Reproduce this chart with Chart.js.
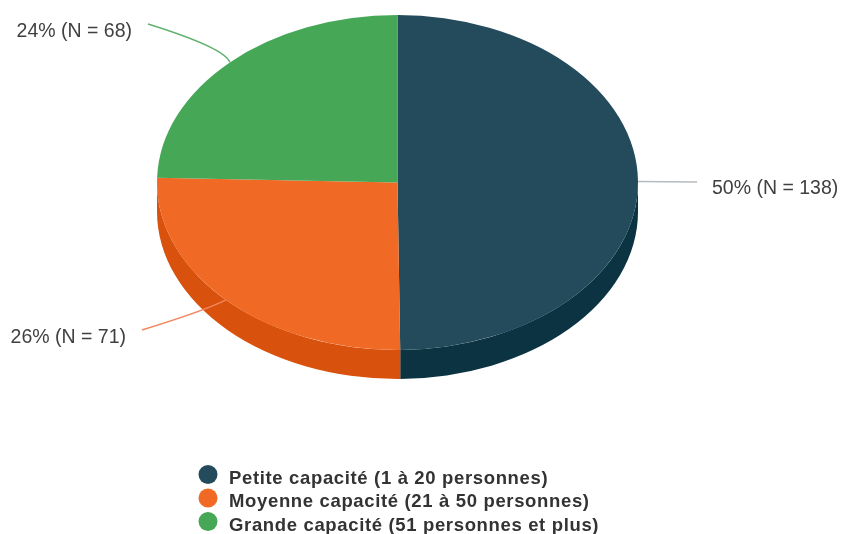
<!DOCTYPE html>
<html lang="fr">
<head>
<meta charset="utf-8">
<title>Capacité</title>
<script src="https://cdn.jsdelivr.net/npm/chart.js@4.4.1/dist/chart.umd.min.js"></script>
<style>
  html, body { margin: 0; padding: 0; background: #ffffff; }
  #wrap { position: relative; width: 843px; height: 534px; }
</style>
</head>
<body>
<div id="wrap"><canvas id="capaciteChart"></canvas></div>
<script>
// Data
const categories = [
    'Petite capacité (1 à 20 personnes)',
    'Moyenne capacité (21 à 50 personnes)',
    'Grande capacité (51 personnes et plus)'
];
const counts = [138, 71, 68];
const percentLabels = ['50%', '26%', '24%'];

// Colours
const topColors = ['#234b5b', '#f06a25', '#46a857'];
const sideColors = ['#0c3342', '#d9520d', '#2f8a40'];
const leaderColors = ['#b5bbbe', '#f3855c', '#5fb16d'];

// 3D look: the round pie is squashed and given a side wall
const FACE_CY = 182.5;     // centre of the top face on screen
const TILT = 167.5 / 240.5; // vertical squash of the face
const DEPTH = 29;          // wall height in px
const FONT = '"Liberation Sans", Arial, sans-serif';

// Where each slice's label sits (screen px)
const labelSpots = [
    { end: [697, 182], ctrl: null, x: 712, y: 194, align: 'left' },
    { end: [142, 330], ctrl: [204, 311], x: 126, y: 343, align: 'right' },
    { end: [148, 24], ctrl: [225, 48], x: 132, y: 37, align: 'right' }
];

// map a point on the flat chart into the tilted view
function toScreen(arc, angle) {
    const r = arc.outerRadius;
    return {
        x: arc.x + r * Math.cos(angle),
        y: FACE_CY + r * Math.sin(angle) * TILT
    };
}

const pie3d = {
    id: 'pie3d',
    beforeDatasetsDraw(chart) {
        const ctx = chart.ctx;
        const arcs = chart.getDatasetMeta(0).data;
        const cy = arcs[0].y;
        ctx.save();
        ctx.translate(0, FACE_CY);
        ctx.scale(1, TILT);
        ctx.translate(0, -cy);

        // side wall, only the front half (0..PI) can be seen
        const du = DEPTH / TILT;
        arcs.forEach((arc, i) => {
            const s = Math.max(arc.startAngle, 0);
            const e = Math.min(arc.endAngle, Math.PI);
            if (e <= s) return;
            ctx.beginPath();
            ctx.arc(arc.x, arc.y, arc.outerRadius, s, e);
            ctx.arc(arc.x, arc.y + du, arc.outerRadius, e, s, true);
            ctx.closePath();
            ctx.fillStyle = sideColors[i];
            ctx.fill();
        });
    },
    afterDatasetsDraw(chart) {
        const ctx = chart.ctx;
        ctx.restore();

        const arcs = chart.getDatasetMeta(0).data;
        arcs.forEach((arc, i) => {
            const mid = (arc.startAngle + arc.endAngle) / 2;
            const p = toScreen(arc, mid);
            const spot = labelSpots[i];

            ctx.save();
            ctx.strokeStyle = leaderColors[i];
            ctx.lineWidth = 1.4;
            ctx.beginPath();
            ctx.moveTo(p.x, p.y);
            if (spot.ctrl) {
                ctx.quadraticCurveTo(spot.ctrl[0], spot.ctrl[1], spot.end[0], spot.end[1]);
            } else {
                ctx.lineTo(spot.end[0], spot.end[1]);
            }
            ctx.stroke();

            ctx.fillStyle = '#404040';
            ctx.font = '19.5px ' + FONT;
            ctx.textAlign = spot.align;
            ctx.textBaseline = 'alphabetic';
            ctx.fillText(percentLabels[i] + ' (N = ' + counts[i] + ')', spot.x, spot.y);
            ctx.restore();
        });
    },
    afterDraw(chart) {
        // legend, stacked in one column
        const ctx = chart.ctx;
        ctx.save();
        ctx.font = 'bold 18.5px ' + FONT;
        ctx.letterSpacing = '0.65px';
        ctx.textAlign = 'left';
        ctx.textBaseline = 'alphabetic';
        categories.forEach((label, i) => {
            const base = 483.5 + i * 23.5;
            ctx.fillStyle = topColors[i];
            ctx.beginPath();
            ctx.arc(208, base - 9, 9.5, 0, Math.PI * 2);
            ctx.fill();
            ctx.fillStyle = '#333333';
            ctx.fillText(label, 229, base);
        });
        ctx.restore();
    }
};

function initializeCapaciteChart(chartId) {
    const canvas = document.getElementById(chartId);
    if (!canvas) {
        console.error('Chart canvas not found:', chartId);
        return;
    }
    new Chart(canvas.getContext('2d'), {
        type: 'pie',
        data: {
            labels: categories,
            datasets: [{
                data: counts,
                backgroundColor: topColors,
                borderWidth: 0,
                hoverOffset: 0,
                clip: false
            }]
        },
        options: {
            responsive: true,
            maintainAspectRatio: false,
            animation: false,
            events: [],
            layout: {
                padding: { left: 157, right: 205, top: 0, bottom: 53 }
            },
            plugins: {
                legend: { display: false },
                tooltip: { enabled: false }
            }
        },
        plugins: [pie3d]
    });
}

initializeCapaciteChart('capaciteChart');
</script>
</body>
</html>
